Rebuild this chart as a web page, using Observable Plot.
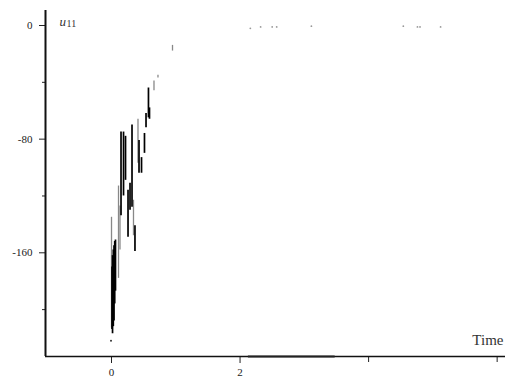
<!DOCTYPE html>
<html>
<head>
<meta charset="utf-8">
<script src="https://cdn.jsdelivr.net/npm/d3@7"></script>
<script src="https://cdn.jsdelivr.net/npm/@observablehq/plot@0.6"></script>
<style>
  html, body { margin: 0; padding: 0; background: #fff; }
  #chart svg { display: block; }
</style>
</head>
<body>
<div id="chart"></div>
<script>
// Dense oscillation strokes of u11: time, lower and upper extent of each swing
const darkTime  = [0.008, 0.016, 0.028, 0.039, 0.050, 0.062, 0.148, 0.187, 0.218, 0.257, 0.288, 0.319, 0.365, 0.428, 0.467, 0.513, 0.537, 0.575, 0.591];
const darkLow   = [-214, -217, -212, -208, -196, -187, -134, -120, -109, -149, -130, -128, -159, -104, -104, -90, -72, -65, -66];
const darkHigh  = [-170, -162, -158, -155, -152, -151, -75, -75, -78, -116, -111, -70, -141, -81, -93, -76, -62, -44, -58];

// Fainter swings drawn between the dense ones
const lightTime = [0, 0.109, 0.132, 0.342, 0.412, 0.661, 0.723, 0.949];
const lightLow  = [-213, -178, -158, -148, -97, -46, -37, -18];
const lightHigh = [-135, -113, -127, -123, -66, -39, -35, -14];

// Lowest excursion right after t = 0
const troughTime = [-0.008];
const troughValue = [-222];

// Settled state near zero later on
const restTime  = [2.16, 2.32, 2.50, 2.57, 3.11, 4.54, 4.76, 4.80, 5.12];
const restValue = [-2, -1, -1, -1, -0.5, -0.5, -1, -1, -1];

// Trace running along the lower bound
const floorStart = [2.13];
const floorEnd   = [3.48];

// Axis ticks
const yMajorTicks = [0, -80, -160];
const yMinorTicks = [-40, -120, -200];
const xLabeledTicks = [0, 2];
const xPlainTicks = [4, 6];

const xMin = -1.027, xMax = 6.13;
const yMin = -233, yMax = 17.6;

const dark = darkTime.map((t, i) => ({t, lo: darkLow[i], hi: darkHigh[i]}));
const light = lightTime.map((t, i) => ({t, lo: lightLow[i], hi: lightHigh[i]}));
const trough = troughTime.map((t, i) => ({t, v: troughValue[i]}));
const rest = restTime.map((t, i) => ({t, v: restValue[i]}));
const floor = floorStart.map((s, i) => ({s, e: floorEnd[i], v: yMin}));

const serif = "'Liberation Serif', 'DejaVu Serif', serif";

const chart = Plot.plot({
  width: 508,
  height: 382,
  marginLeft: 45,
  marginRight: 3,
  marginTop: 0,
  marginBottom: 26,
  style: {fontFamily: serif, background: "#fff", color: "#222"},
  x: {domain: [xMin, xMax]},
  y: {domain: [yMin, yMax]},
  marks: [
    // y axis: labeled and minor ticks
    Plot.axisY({ticks: yMajorTicks, tickSize: 6, tickPadding: 7, tickFormat: d => String(d), fontSize: 11, label: null, stroke: "#222"}),
    Plot.axisY({ticks: yMinorTicks, tickSize: 3, tickFormat: () => "", label: null, stroke: "#222"}),
    // x axis
    Plot.axisX({ticks: xLabeledTicks, tickSize: 7, tickPadding: 5, tickFormat: d => String(d), fontSize: 11, label: null, stroke: "#222"}),
    Plot.axisX({ticks: xPlainTicks, tickSize: 6, tickFormat: () => "", label: null, stroke: "#222"}),
    // axis lines
    Plot.ruleX([xMin], {y1: yMin, y2: 10.6, stroke: "#111", strokeWidth: 2}),
    Plot.ruleY([yMin], {x1: xMin, x2: xMax, stroke: "#111", strokeWidth: 1.3}),
    Plot.ruleY(floor, {y: "v", x1: "s", x2: "e", stroke: "#222", strokeWidth: 2}),
    // the trace
    Plot.ruleX(light, {x: "t", y1: "lo", y2: "hi", stroke: "#888", strokeWidth: 1.3}),
    Plot.ruleX(dark, {x: "t", y1: "lo", y2: "hi", stroke: "#000", strokeWidth: 1.7}),
    Plot.dot(trough, {x: "t", y: "v", r: 1, fill: "#333", stroke: null}),
    Plot.dot(rest, {x: "t", y: "v", r: 0.9, fill: "#999", stroke: null}),
    // labels
    Plot.text(["u"], {frameAnchor: "top-left", dx: 14, dy: 16, fontSize: 13, fontStyle: "italic", fill: "#333", textAnchor: "start"}),
    Plot.text(["11"], {frameAnchor: "top-left", dx: 21, dy: 19, fontSize: 10, fill: "#333", textAnchor: "start"}),
    Plot.text(["Time"], {frameAnchor: "bottom-right", dx: -2, dy: -12, fontSize: 15, fill: "#333", textAnchor: "end"})
  ]
});

document.getElementById("chart").appendChild(chart);
</script>
</body>
</html>
